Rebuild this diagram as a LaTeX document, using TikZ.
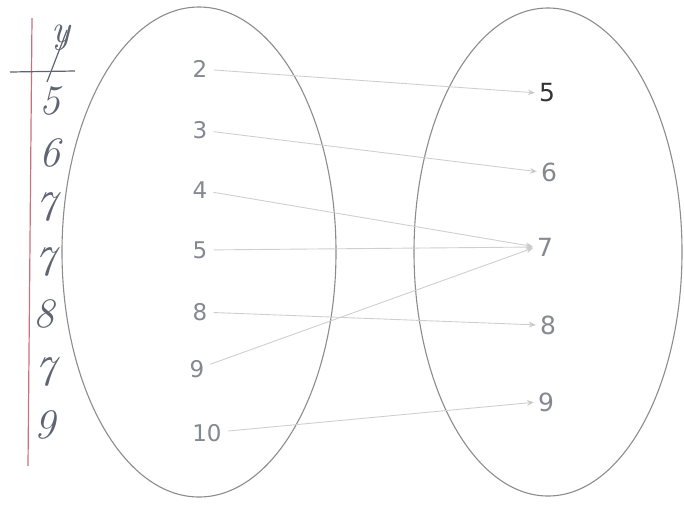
\documentclass[tikz,border=0pt]{standalone}
\usepackage{fontspec}
\newfontfamily\numfont{DejaVu Sans}
\usetikzlibrary{arrows.meta}
\definecolor{ellgray}{HTML}{8C8C8C}
\definecolor{txtgray}{HTML}{858890}
\definecolor{linegray}{HTML}{CFCFCF}
\definecolor{hand}{HTML}{5E6472}
\definecolor{redline}{HTML}{C8707E}
\tikzset{
  setell/.style={draw=ellgray, line width=1.1pt},
  lnum/.style={text=txtgray, font=\numfont\fontsize{23}{26}\selectfont, inner sep=1pt},
  rnum/.style={text=txtgray, font=\numfont\fontsize{25}{28}\selectfont, inner sep=1pt},
  hnum/.style={text=hand, font=\itshape\fontsize{42}{46}\selectfont, inner sep=0pt},
  maparrow/.style={draw=linegray, line width=0.9pt, -{Stealth[length=7pt,width=6pt,fill=txtgray!80]}, shorten >=3pt, shorten <=5pt},
}
\begin{document}
\begin{tikzpicture}[x=1pt,y=-1pt]
\useasboundingbox (0,0) rectangle (684,504);
% hand-drawn table
\coordinate (rtop) at (32,18);
\coordinate (rbot) at (28,466);
\draw[redline, line width=1.2pt] (rtop) -- (rbot);
\coordinate (hl) at (10,72);
\coordinate (hr) at (75,71);
\draw[hand, line width=1.2pt] (hl) -- (hr);
\node[hnum, font=\itshape\fontsize{40}{44}\selectfont] (hy) at (61,38) {y};
\coordinate (sa) at (67,30);
\coordinate (sb) at (47,82);
\draw[hand, line width=1.2pt] (sa) -- (sb);
\node[hnum] (h1) at (50,101) {5};
\node[hnum] (h2) at (50,153) {6};
\node[hnum] (h3) at (46,207) {7};
\node[hnum] (h4) at (45,262) {7};
\node[hnum] (h5) at (44,314) {8};
\node[hnum] (h6) at (45,372) {7};
\node[hnum] (h7) at (45,425) {9};
% ellipses
\draw[setell] (199,252) ellipse [x radius=137, y radius=245];
\draw[setell] (548,252) ellipse [x radius=134, y radius=244];
% domain
\node[lnum] (x2) at (200,69) {2};
\node[lnum] (x3) at (200,130) {3};
\node[lnum] (x4) at (200,190) {4};
\node[lnum] (x5) at (200,250) {5};
\node[lnum] (x8) at (200,312) {8};
\node[lnum] (x9) at (197,369) {9};
\node[lnum] (x10) at (207,433) {10};
% range
\node[rnum, text=black!80] (y5) at (547,93) {5};
\node[rnum] (y6) at (549,172) {6};
\node[rnum] (y7) at (545,247) {7};
\node[rnum] (y8) at (548,325) {8};
\node[rnum] (y9) at (546,402) {9};
% mappings
\draw[maparrow] (x2) -- (y5.west);
\draw[maparrow] (x3) -- (y6.west);
\draw[maparrow] (x4) -- (y7.west);
\draw[maparrow] (x5) -- (y7.west);
\draw[maparrow] (x8) -- (y8.west);
\draw[maparrow] (x9) -- (y7.west);
\draw[maparrow] (x10) -- (y9.west);
\end{tikzpicture}
\end{document}
